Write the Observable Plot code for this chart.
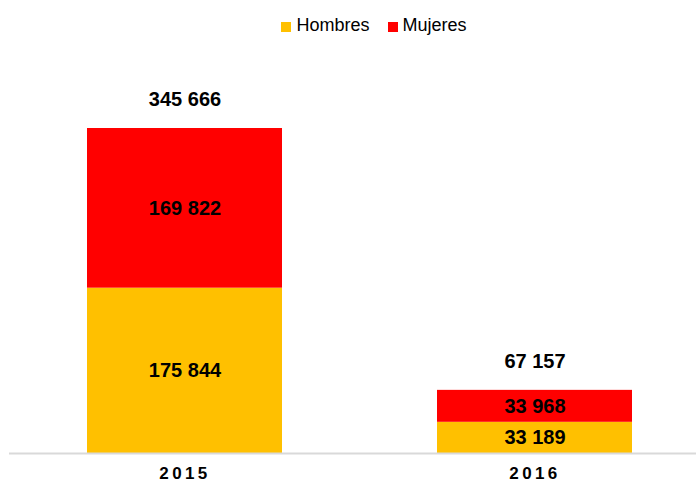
<!DOCTYPE html>
<html>
<head>
<meta charset="utf-8">
<script src="https://cdn.jsdelivr.net/npm/d3@7"></script>
<script src="https://cdn.jsdelivr.net/npm/@observablehq/plot@0.6"></script>
<style>
  body { margin: 0; background: #fff; font-family: "Liberation Sans", Arial, sans-serif; overflow: hidden; }
  #legend { height: 50px; display: flex; justify-content: center; align-items: center; font-size: 18px; color: #000; padding-left: 52px; }
  #legend .item { display: flex; align-items: center; margin: 0 9px; }
  #legend .sw { width: 10px; height: 10px; margin-right: 5px; margin-top: 3px; }
  #chart { margin-top: -10px; }
  g[aria-label="x-axis tick label"] text { letter-spacing: 3.4px; }
</style>
</head>
<body>
<div id="legend"></div>
<div id="chart"></div>
<script>
const years = ["2015", "2016"];
const series = ["Hombres", "Mujeres"];
const colors = ["#FFC000", "#FF0000"];
const hombres = [175844, 33189];
const mujeres = [169822, 33968];

const data = [];
years.forEach((y, i) => {
  data.push({year: y, sexo: series[0], value: hombres[i]});
  data.push({year: y, sexo: series[1], value: mujeres[i]});
});
const totals = years.map((y, i) => ({year: y, value: hombres[i] + mujeres[i]}));

const fmt = d3.formatLocale({thousands: " ", grouping: [3], decimal: ","}).format(",d");

const legend = document.getElementById("legend");
series.forEach((s, i) => {
  const it = document.createElement("div");
  it.className = "item";
  it.innerHTML = `<span class="sw" style="background:${colors[i]}"></span><span>${s}</span>`;
  legend.appendChild(it);
});

const chart = Plot.plot({
  width: 696,
  height: 442,
  marginTop: 88,
  marginBottom: 29,
  marginLeft: 9,
  marginRight: 0,
  style: {fontFamily: "'Liberation Sans', Arial, sans-serif", background: "transparent"},
  x: {domain: years, range: [9.5, 709.5], paddingInner: 0.443, paddingOuter: 0.2215, label: null},
  y: {domain: [0, d3.max(totals, d => d.value)], axis: null},
  color: {domain: series, range: colors},
  marks: [
    Plot.barY(data, {x: "year", y: "value", fill: "sexo", z: "sexo", order: series}),
    Plot.ruleY([0], {stroke: "#d9d9d9", strokeWidth: 2}),
    Plot.text(data, Plot.stackY({x: "year", y: "value", z: "sexo", order: series, text: d => fmt(d.value), fontSize: 20, fontWeight: "bold", fill: "#000"})),
    Plot.text(totals, {x: "year", y: "value", text: d => fmt(d.value), dy: -29, fontSize: 20, fontWeight: "bold", fill: "#000"}),
    Plot.axisX({tickSize: 0, tickPadding: 13, fontSize: 17, fontWeight: "bold", color: "#000", label: null})
  ]
});
document.getElementById("chart").appendChild(chart);
</script>
</body>
</html>
